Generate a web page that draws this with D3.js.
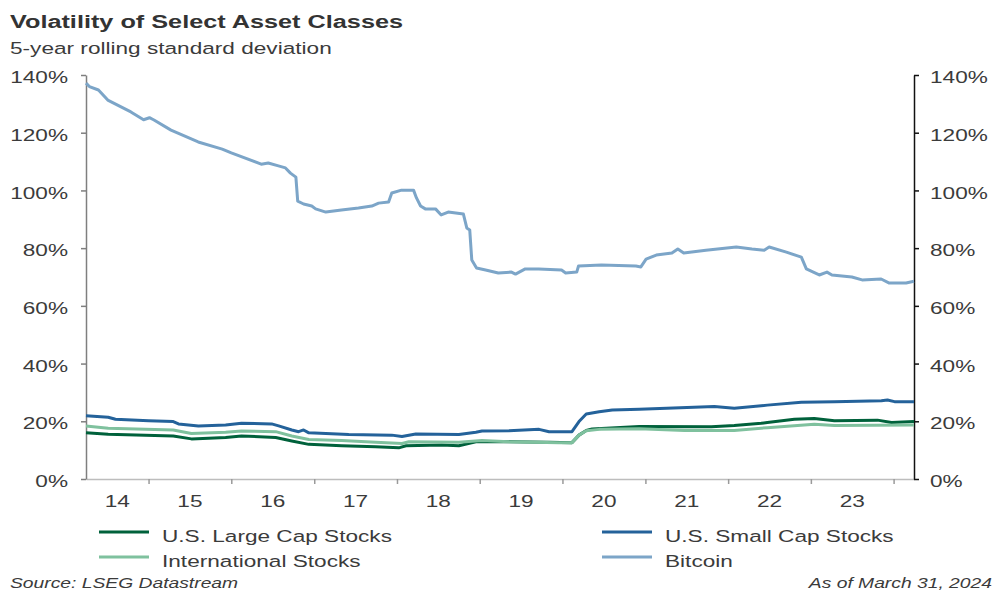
<!DOCTYPE html>
<html>
<head>
<meta charset="utf-8">
<script src="https://cdn.jsdelivr.net/npm/d3@7"></script>
<style>
body { margin: 0; background: #fff; }
svg text { font-family: "Liberation Sans", Arial, sans-serif; fill: #3b3b3b; }
</style>
</head>
<body>
<svg id="chart" width="1000" height="600"></svg>
<script>
// 5-year rolling standard deviation, in %
var largeCap = [
    ["2014-03-31", 16.0], ["2014-07-07", 15.5], ["2015-04-20", 14.9], ["2015-07-09", 13.9],
    ["2015-12-07", 14.4], ["2016-02-15", 14.9], ["2016-07-15", 14.4], ["2016-09-24", 13.2],
    ["2016-12-08", 12.0], ["2017-05-02", 11.5], ["2017-09-29", 11.2], ["2018-01-09", 10.8],
    ["2018-02-10", 11.5], ["2018-07-17", 11.8], ["2018-10-01", 11.5], ["2018-12-15", 12.9],
    ["2019-05-10", 12.9], ["2019-11-03", 12.7], ["2020-02-12", 12.6], ["2020-03-14", 15.2],
    ["2020-04-15", 16.8], ["2020-05-11", 17.3], ["2020-12-05", 18.2], ["2021-10-19", 18.1],
    ["2022-01-28", 18.5], ["2022-05-27", 19.3], ["2022-06-23", 19.6], ["2022-10-20", 20.7],
    ["2023-01-16", 21.0], ["2023-04-15", 20.2], ["2023-10-22", 20.4], ["2023-12-23", 19.6],
    ["2024-03-31", 19.9]
];

var smallCap = [
    ["2014-03-31", 21.9], ["2014-07-07", 21.4], ["2014-08-08", 20.7], ["2015-01-01", 20.2],
    ["2015-04-20", 19.9], ["2015-05-13", 19.1], ["2015-08-09", 18.4], ["2015-12-07", 18.7],
    ["2016-02-15", 19.3], ["2016-06-27", 19.1], ["2016-07-28", 18.4], ["2016-09-24", 17.0],
    ["2016-10-24", 16.4], ["2016-11-15", 17.0], ["2016-12-08", 16.0], ["2017-02-21", 15.8],
    ["2017-06-02", 15.4], ["2017-12-09", 15.2], ["2018-01-23", 14.7], ["2018-03-25", 15.6],
    ["2018-10-01", 15.4], ["2018-12-15", 16.2], ["2019-01-11", 16.6], ["2019-05-10", 16.7],
    ["2019-09-20", 17.2], ["2019-11-03", 16.4], ["2020-02-12", 16.4], ["2020-03-14", 19.9],
    ["2020-04-15", 22.5], ["2020-06-11", 23.3], ["2020-08-08", 23.9], ["2020-12-05", 24.2],
    ["2021-11-01", 25.1], ["2022-01-28", 24.5], ["2022-06-23", 25.6], ["2022-11-20", 26.6],
    ["2023-04-15", 26.8], ["2023-11-08", 27.1], ["2023-12-05", 27.4], ["2024-01-05", 26.8],
    ["2024-03-31", 26.8]
];

var intl = [
    ["2014-03-31", 18.4], ["2014-07-07", 17.6], ["2015-04-20", 17.0], ["2015-07-09", 15.8],
    ["2015-12-07", 16.2], ["2016-02-15", 16.6], ["2016-07-15", 16.4], ["2016-09-24", 14.9],
    ["2016-12-08", 13.7], ["2017-05-02", 13.3], ["2017-09-29", 12.7], ["2018-01-23", 12.3],
    ["2018-02-23", 12.9], ["2018-10-01", 12.7], ["2019-01-11", 13.3], ["2019-05-10", 12.9],
    ["2019-12-17", 12.6], ["2020-02-12", 12.6], ["2020-03-14", 15.2], ["2020-04-15", 16.7],
    ["2020-06-11", 17.2], ["2020-12-05", 17.4], ["2021-06-22", 16.8], ["2022-01-28", 16.8],
    ["2022-06-23", 17.8], ["2023-01-16", 19.0], ["2023-04-15", 18.5], ["2024-03-31", 18.7]
];

var bitcoin = [
    ["2014-03-31", 137.2], ["2014-04-15", 136.0], ["2014-05-25", 134.8], ["2014-07-05", 131.3],
    ["2014-10-15", 127.2], ["2014-12-10", 124.5], ["2015-01-05", 125.2], ["2015-01-25", 124.4],
    ["2015-04-10", 120.9], ["2015-08-08", 116.8], ["2015-11-22", 114.3], ["2016-01-01", 113.0],
    ["2016-05-12", 109.1], ["2016-06-12", 109.5], ["2016-07-27", 108.5], ["2016-08-27", 107.8],
    ["2016-09-18", 106.0], ["2016-10-12", 104.6], ["2016-10-20", 96.3], ["2016-11-15", 95.3],
    ["2016-12-21", 94.6], ["2017-01-07", 93.6], ["2017-02-21", 92.5], ["2017-05-01", 93.2],
    ["2017-07-15", 93.9], ["2017-09-12", 94.6], ["2017-10-12", 95.6], ["2017-11-25", 96.0],
    ["2017-12-09", 99.1], ["2018-01-21", 100.1], ["2018-03-15", 100.1], ["2018-03-28", 97.4],
    ["2018-04-15", 94.6], ["2018-05-06", 93.6], ["2018-06-20", 93.6], ["2018-07-15", 91.5],
    ["2018-08-15", 92.5], ["2018-10-21", 91.8], ["2018-11-05", 87.0], ["2018-11-18", 86.3],
    ["2018-11-27", 75.9], ["2018-12-18", 73.1], ["2019-01-27", 72.4], ["2019-03-24", 71.4],
    ["2019-05-21", 71.7], ["2019-06-08", 71.0], ["2019-07-21", 72.8], ["2019-09-18", 72.8],
    ["2019-12-28", 72.4], ["2020-01-15", 71.4], ["2020-03-04", 71.7], ["2020-03-12", 73.8],
    ["2020-06-21", 74.2], ["2020-11-20", 73.8], ["2020-12-12", 73.5], ["2021-01-04", 76.2],
    ["2021-02-18", 77.6], ["2021-04-28", 78.3], ["2021-05-24", 79.7], ["2021-06-19", 78.3],
    ["2021-09-25", 79.3], ["2022-02-06", 80.4], ["2022-04-16", 79.7], ["2022-06-09", 79.3],
    ["2022-07-01", 80.4], ["2022-09-15", 78.6], ["2022-11-20", 76.9], ["2022-12-12", 72.8],
    ["2023-02-07", 70.7], ["2023-03-13", 71.7], ["2023-04-04", 70.7], ["2023-07-01", 70.0],
    ["2023-08-15", 69.0], ["2023-11-07", 69.3], ["2023-12-13", 67.9], ["2024-02-25", 67.9],
    ["2024-03-31", 68.5]
];

var seriesNames = ["U.S. Large Cap Stocks", "U.S. Small Cap Stocks", "International Stocks", "Bitcoin"];
var seriesColors = ["#00613b", "#24629a", "#7fc19e", "#7ca5c8"];
var yTicks = [0, 20, 40, 60, 80, 100, 120, 140];
var yearLabels = ["14", "15", "16", "17", "18", "19", "20", "21", "22", "23"];

// the original picture is drawn wide, so text gets stretched sideways
var SX = 1.33;

function widen(sel) {
    sel.each(function() {
        var t = d3.select(this);
        var x = +t.attr("x") || 0;
        t.attr("x", x / SX).attr("transform", "scale(" + SX + ",1)");
    });
    return sel;
}

var parse = d3.timeParse("%Y-%m-%d");
var allSeries = [largeCap, smallCap, intl, bitcoin].map(function(s) {
    return s.map(function(d) { return {date: parse(d[0]), value: d[1]}; });
});

var plotLeft = 86, plotRight = 914, plotTop = 75, plotBottom = 479;

var x = d3.scaleTime()
    .domain([parse("2014-03-31"), parse("2024-03-31")])
    .range([plotLeft, plotRight]);

var y = d3.scaleLinear()
    .domain([0, 140])
    .range([plotBottom, plotTop]);

var svg = d3.select("#chart");

// title
widen(svg.append("text")
    .attr("x", 10).attr("y", 28)
    .style("font-size", "19px")
    .style("font-weight", "bold")
    .style("fill", "#333")
    .text("Volatility of Select Asset Classes"));

widen(svg.append("text")
    .attr("x", 10).attr("y", 54)
    .style("font-size", "17px")
    .text("5-year rolling standard deviation"));

// bottom axis: ticks on the year boundaries, labels in the middle of each year
var yearStarts = d3.range(2015, 2025).map(function(yr) { return new Date(yr, 0, 1); });

var xAxis = svg.append("g")
    .attr("transform", "translate(0," + plotBottom + ")")
    .call(d3.axisBottom(x).tickValues(yearStarts).tickSize(5).tickSizeOuter(0).tickFormat(""));
xAxis.select(".domain").attr("stroke", "#bdbdbd").attr("stroke-width", 1.5);
xAxis.selectAll(".tick line").attr("stroke", "#9a9a9a").attr("stroke-width", 1.5);

var xDomain = x.domain();
svg.append("g").selectAll("text")
    .data(yearLabels)
    .enter().append("text")
    .attr("x", function(d) {
        var yr = 2000 + (+d);
        var a = d3.max([new Date(yr, 0, 1), xDomain[0]]);
        var b = new Date(yr + 1, 0, 1);
        return (x(a) + x(b)) / 2;
    })
    .attr("y", 507)
    .style("font-size", "17px")
    .style("text-anchor", "middle")
    .text(function(d) { return d; })
    .call(widen);

// left axis
var yLeft = svg.append("g")
    .attr("transform", "translate(" + plotLeft + ",0)")
    .call(d3.axisLeft(y).tickValues(yTicks).tickSize(5).tickSizeOuter(0).tickPadding(13)
        .tickFormat(function(d) { return d + "%"; }));
yLeft.select(".domain").attr("stroke", "#7f7f7f").attr("stroke-width", 1.5);
yLeft.selectAll(".tick line").attr("stroke", "#7f7f7f").attr("stroke-width", 1.5);
yLeft.selectAll(".tick text")
    .attr("dy", "0.45em")
    .style("font-size", "17px")
    .call(widen);

// right axis
var yRight = svg.append("g")
    .attr("transform", "translate(" + plotRight + ",0)")
    .call(d3.axisRight(y).tickValues(yTicks).tickSize(5).tickSizeOuter(0).tickPadding(11)
        .tickFormat(function(d) { return d + "%"; }));
yRight.select(".domain").attr("stroke", "#111").attr("stroke-width", 1.5);
yRight.selectAll(".tick line").attr("stroke", "#111").attr("stroke-width", 1.5);
yRight.selectAll(".tick text")
    .attr("dy", "0.45em")
    .style("font-size", "17px")
    .call(widen);

yLeft.attr("font-family", null);
yRight.attr("font-family", null);
xAxis.attr("font-family", null);

// lines
var line = d3.line()
    .x(function(d) { return x(d.date); })
    .y(function(d) { return y(d.value); });

// draw order: bitcoin, small cap, large cap, international on top
[3, 1, 0, 2].forEach(function(i) {
    svg.append("path")
        .datum(allSeries[i])
        .attr("fill", "none")
        .attr("stroke", seriesColors[i])
        .attr("stroke-width", 3)
        .attr("stroke-linejoin", "round")
        .attr("d", line);
});

// legend, two columns
var legendPos = [[99, 532], [602, 532], [99, 557], [602, 557]];
var legendOrder = [0, 1, 2, 3];
var legend = svg.selectAll(".legend")
    .data(legendOrder)
    .enter().append("g")
    .attr("class", "legend")
    .attr("transform", function(d, i) { return "translate(" + legendPos[i][0] + "," + legendPos[i][1] + ")"; });

legend.append("line")
    .attr("x1", 0).attr("x2", 50)
    .attr("y1", 0).attr("y2", 0)
    .attr("stroke", function(d) { return seriesColors[d]; })
    .attr("stroke-width", 3);

legend.append("text")
    .attr("x", 63)
    .attr("y", 9.5)
    .style("font-size", "17px")
    .text(function(d) { return seriesNames[d]; })
    .call(widen);

// footer
widen(svg.append("text")
    .attr("x", 10).attr("y", 588)
    .style("font-size", "14.5px")
    .style("font-style", "italic")
    .text("Source: LSEG Datastream"));

widen(svg.append("text")
    .attr("x", 992).attr("y", 588)
    .style("font-size", "14.5px")
    .style("font-style", "italic")
    .style("text-anchor", "end")
    .text("As of March 31, 2024"));
</script>
</body>
</html>
